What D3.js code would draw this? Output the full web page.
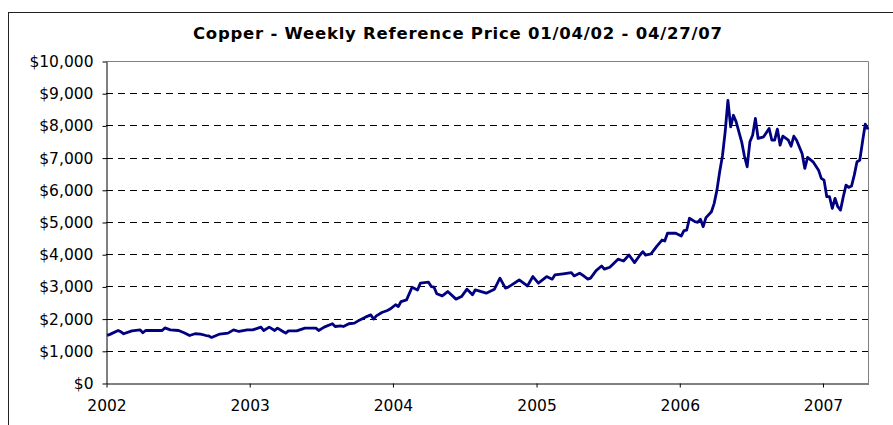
<!DOCTYPE html>
<html>
<head>
<meta charset="utf-8">
<script src="https://cdn.jsdelivr.net/npm/d3@7"></script>
<style>
  body { margin: 0; background: #fff; }
  svg { display: block; }
</style>
</head>
<body>
<svg id="chart"></svg>
<script>
// weekly reference price, week index counted from the first week (01/04/02)
const startDate = "2002-01-04";
const weekIdx = [
    0, 1, 4, 5, 6, 9, 12, 13, 14, 17, 20, 21, 23, 26, 28, 30, 32, 34, 36, 37, 38, 41, 44, 46, 48, 51,
    53, 56, 57, 59, 61, 62, 64, 65, 66, 69, 72, 76, 77, 79, 82, 83, 85, 86, 88, 90, 92, 94, 96, 97, 98, 100, 102, 103,
    105, 106, 107, 109, 111, 113, 114, 117, 118, 119, 120, 122, 124, 127, 129, 131, 133, 134, 135, 138, 141, 143, 145, 146, 150, 153,
    155, 157, 160, 162, 163, 166, 169, 170, 172, 173, 175, 176, 178, 180, 181, 183, 186, 188, 190, 192, 194, 195, 196, 198, 200, 202, 203, 204, 207,
    209, 210, 211, 212, 214, 215, 216, 217, 218, 220, 221, 222, 223, 224, 225, 226, 227, 228, 229, 231, 232, 233, 234, 235, 236, 237, 239,
    241, 242, 243, 244, 245, 246, 248, 249, 250, 251, 253, 254, 255, 257, 259, 260,
    261, 262, 263, 264, 265, 266, 267, 268, 269, 270, 271, 272, 273, 274, 275, 276, 277
];
const price = [
    1480, 1510, 1630, 1590, 1530, 1620, 1650, 1560, 1630, 1630, 1630, 1710, 1650, 1630, 1560, 1475, 1530, 1520, 1475, 1460, 1415, 1520, 1550, 1650, 1600, 1650,
    1650, 1735, 1630, 1735, 1630, 1705, 1600, 1550, 1620, 1620, 1705, 1705, 1630, 1735, 1840, 1755, 1775, 1755, 1840, 1860, 1960, 2045, 2115, 1985, 2085, 2190, 2250, 2295,
    2430, 2375, 2530, 2580, 2975, 2890, 3100, 3130, 2995, 2975, 2770, 2705, 2840, 2605, 2685, 2915, 2740, 2890, 2870, 2790, 2915, 3255, 2945, 2975, 3200, 3015,
    3305, 3100, 3305, 3225, 3355, 3390, 3430, 3325, 3410, 3355, 3225, 3255, 3490, 3635, 3535, 3595, 3845, 3790, 3975, 3740, 3975, 4080, 3975, 4010, 4235, 4440, 4410, 4650, 4650,
    4565, 4730, 4750, 5115, 5010, 4990, 5085, 4855, 5135, 5320, 5580, 5990, 6560, 7050, 7800, 8780, 7955, 8315, 8110, 7490, 7050, 6715, 7490, 7695, 8215, 7595, 7645,
    7905, 7540, 7540, 7885, 7385, 7665, 7540, 7355, 7665, 7540, 7130, 6665, 7005, 6870, 6610, 6355,
    6300, 5785, 5785, 5425, 5735, 5475, 5370, 5785, 6145, 6075, 6115, 6455, 6870, 6920, 7490, 8040, 7875
];
const yTicks = [0, 1000, 2000, 3000, 4000, 5000, 6000, 7000, 8000, 9000, 10000];
const xTickYears = [2002, 2003, 2004, 2005, 2006, 2007];
const xDomain = ["2002-01-01", "2007-04-27"];
const titleText = "Copper - Weekly Reference Price 01/04/02 - 04/27/07";

const width = 893, height = 425;
const margin = { top: 61, right: 25, bottom: 42, left: 106 };
const font = "'DejaVu Sans', Verdana, sans-serif";

const parse = d3.timeParse("%Y-%m-%d");
const start = parse(startDate);
const data = weekIdx.map((w, i) => ({ date: d3.timeDay.offset(start, w * 7), value: price[i] }));

const svg = d3.select("#chart")
    .attr("width", width)
    .attr("height", height);

// outer chart border (runs off the picture on the right and bottom)
svg.append("rect")
    .attr("x", 8.5).attr("y", 12.5)
    .attr("width", 950).attr("height", 450)
    .attr("fill", "none")
    .attr("stroke", "#222")
    .attr("stroke-width", 1);

svg.append("text")
    .attr("x", 457.5)
    .attr("y", 39)
    .attr("text-anchor", "middle")
    .attr("textLength", 529)
    .attr("lengthAdjust", "spacing")
    .style("font-family", font)
    .style("font-size", "16.5px")
    .style("font-weight", "bold")
    .text(titleText);

const x = d3.scaleTime()
    .domain(xDomain.map(parse))
    .range([margin.left, width - margin.right]);

const y = d3.scaleLinear()
    .domain([0, 10000])
    .range([height - margin.bottom, margin.top]);

// dashed gridlines
svg.append("g")
    .selectAll("line")
    .data(yTicks.filter(t => t > 0 && t < 10000))
    .join("line")
    .attr("x1", margin.left)
    .attr("x2", width - margin.right)
    .attr("y1", d => Math.round(y(d)) + 0.5)
    .attr("y2", d => Math.round(y(d)) + 0.5)
    .attr("stroke", "#000")
    .attr("stroke-width", 1)
    .attr("stroke-dasharray", "7,5");

// plot area top and right borders
svg.append("path")
    .attr("d", `M${margin.left},${Math.round(y(10000)) + 0.5}H${width - margin.right + 0.5}V${height - margin.bottom}`)
    .attr("fill", "none")
    .attr("stroke", "#808080")
    .attr("stroke-width", 1);

const yAxis = svg.append("g")
    .attr("transform", `translate(${margin.left + 0.5},0.5)`)
    .call(d3.axisLeft(y)
        .tickValues(yTicks)
        .tickSize(4)
        .tickSizeOuter(0)
        .tickPadding(9)
        .tickFormat(d => "$" + d3.format(",")(d)));

const xAxis = svg.append("g")
    .attr("transform", `translate(0.5,${Math.round(y(0)) + 0.5})`)
    .call(d3.axisBottom(x)
        .tickValues(xTickYears.map(yr => new Date(yr, 0, 1)))
        .tickSize(4)
        .tickSizeOuter(0)
        .tickPadding(12)
        .tickFormat(d3.timeFormat("%Y")));

[yAxis, xAxis].forEach(g => {
    g.select(".domain").attr("stroke", "#000");
    g.selectAll(".tick line").attr("stroke", "#000");
    g.selectAll("text")
        .attr("fill", "#000")
        .style("font-family", font)
        .style("font-size", "15.5px");
});

const line = d3.line()
    .x(d => x(d.date))
    .y(d => y(d.value));

svg.append("path")
    .datum(data)
    .attr("fill", "none")
    .attr("stroke", "#000080")
    .attr("stroke-width", 2.8)
    .attr("stroke-linejoin", "round")
    .attr("d", line);
</script>
</body>
</html>
